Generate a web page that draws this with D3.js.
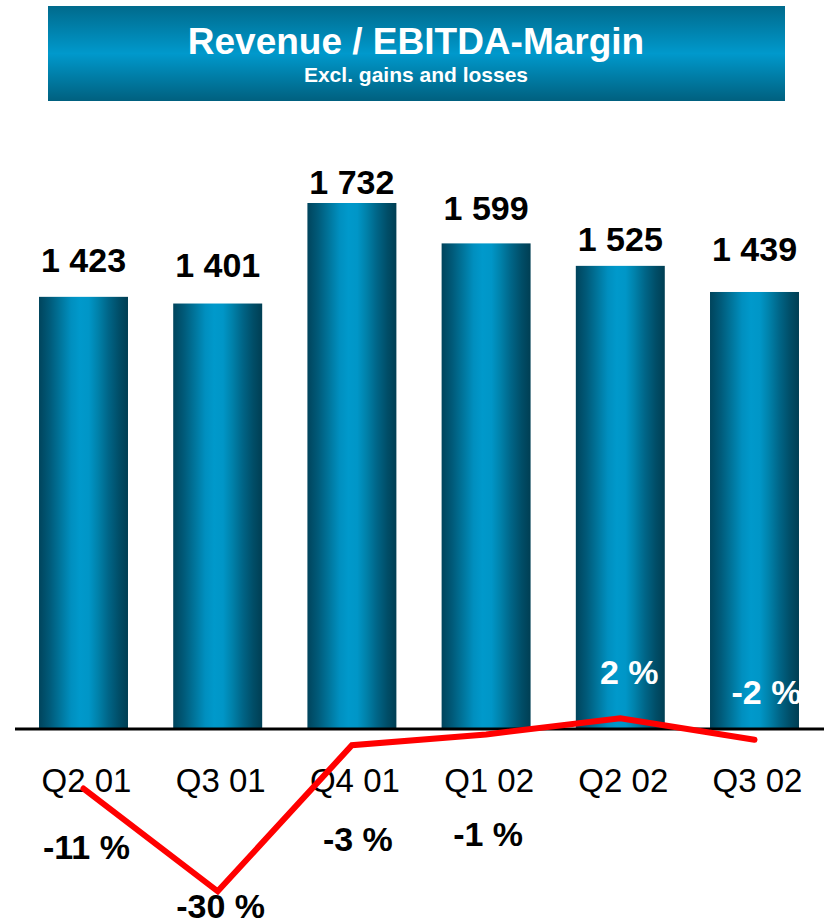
<!DOCTYPE html>
<html>
<head>
<meta charset="utf-8">
<script src="https://cdn.jsdelivr.net/npm/d3@7/dist/d3.min.js"></script>
<style>
  html, body { margin: 0; padding: 0; background: #fff; }
  svg { display: block; font-family: "Liberation Sans", Arial, Helvetica, sans-serif; }
</style>
</head>
<body>
<svg id="chart" width="824" height="924"></svg>
<script>
// Quarterly revenue and EBITDA margin (excl. gains and losses)
const quarters = ["Q2 01", "Q3 01", "Q4 01", "Q1 02", "Q2 02", "Q3 02"];
const revenue = [1423, 1401, 1732, 1599, 1525, 1439];
const ebitdaMargin = [-11, -30, -3, -1, 2, -2];
const revenueLabels = ["1 423", "1 401", "1 732", "1 599", "1 525", "1 439"];
const marginLabels = ["-11 %", "-30 %", "-3 %", "-1 %", "2 %", "-2 %"];

// Label layout (pixel nudges for readability)
const revenueLabelGap = [25, 27, 9, 23, 15, 31];
const marginLabelDy = [70, 27, 106, 112, -34, -36];
const marginLabelDx = [3, 3, 6, 2, 9, 12];

const svg = d3.select("#chart");
const W = 824;
const baseY = 729;

const defs = svg.append("defs");

// Title banner gradient (vertical)
const tg = defs.append("linearGradient")
  .attr("id", "titleGrad").attr("x1", 0).attr("y1", 0).attr("x2", 0).attr("y2", 1);
[[0, "#006a8c"], [0.5, "#0099cc"], [1, "#00607f"]].forEach(([o, c]) =>
  tg.append("stop").attr("offset", o).attr("stop-color", c));

// Cylinder shading for the bars (horizontal)
const bg = defs.append("linearGradient")
  .attr("id", "barGrad").attr("x1", 0).attr("y1", 0).attr("x2", 1).attr("y2", 0);
[[0, "#00445c"], [0.12, "#005a79"], [0.25, "#00779e"], [0.36, "#008fbf"],
 [0.46, "#0099cb"], [0.56, "#0096c7"], [0.66, "#0082ab"], [0.78, "#006587"],
 [0.9, "#004d67"], [1, "#003e53"]].forEach(([o, c]) =>
  bg.append("stop").attr("offset", o).attr("stop-color", c));

// Title banner
svg.append("rect")
  .attr("x", 48).attr("y", 6).attr("width", 737).attr("height", 95)
  .attr("fill", "url(#titleGrad)");
svg.append("text")
  .attr("x", 416).attr("y", 54)
  .attr("text-anchor", "middle")
  .attr("fill", "#fff").attr("font-weight", "bold").attr("font-size", 37)
  .text("Revenue / EBITDA-Margin");
svg.append("text")
  .attr("x", 416).attr("y", 82)
  .attr("text-anchor", "middle")
  .attr("fill", "#fff").attr("font-weight", "bold").attr("font-size", 21)
  .text("Excl. gains and losses");

// Scales
const x = d3.scaleBand()
  .domain(quarters)
  .range([16.4, 821.6])
  .paddingInner(0.337)
  .paddingOuter(0.1685);

const y = d3.scaleLinear()
  .domain([0, 1732])
  .range([baseY, 203]);

const m = d3.scaleLinear()
  .domain([-30, 0])
  .range([891.3, baseY]);

const cx = q => x(q) + x.bandwidth() / 2;

// Revenue bars
svg.append("g").selectAll("rect")
  .data(quarters)
  .join("rect")
  .attr("x", q => x(q))
  .attr("y", (q, i) => y(revenue[i]))
  .attr("width", x.bandwidth())
  .attr("height", (q, i) => y(0) - y(revenue[i]) - 1)
  .attr("fill", "url(#barGrad)");

// Revenue value labels
svg.append("g").selectAll("text")
  .data(quarters)
  .join("text")
  .attr("x", q => cx(q))
  .attr("y", (q, i) => y(revenue[i]) - revenueLabelGap[i])
  .attr("text-anchor", "middle")
  .attr("font-weight", "bold")
  .attr("font-size", 34)
  .attr("fill", "#000")
  .text((q, i) => revenueLabels[i]);

// Baseline
svg.append("line")
  .attr("x1", 15).attr("x2", W)
  .attr("y1", baseY).attr("y2", baseY)
  .attr("stroke", "#000").attr("stroke-width", 3);

// Category labels
svg.append("g").selectAll("text")
  .data(quarters)
  .join("text")
  .attr("x", q => cx(q) + 3)
  .attr("y", 792)
  .attr("text-anchor", "middle")
  .attr("font-size", 33)
  .attr("fill", "#000")
  .text(q => q);

// EBITDA margin line
const line = d3.line()
  .x((d, i) => cx(quarters[i]))
  .y(d => m(d));

svg.append("path")
  .datum(ebitdaMargin)
  .attr("d", line)
  .attr("fill", "none")
  .attr("stroke", "#ff0000")
  .attr("stroke-width", 6)
  .attr("stroke-linejoin", "miter")
  .attr("stroke-linecap", "round");

// EBITDA margin labels
svg.append("g").selectAll("text")
  .data(quarters)
  .join("text")
  .attr("x", (q, i) => cx(q) + marginLabelDx[i])
  .attr("y", (q, i) => m(ebitdaMargin[i]) + marginLabelDy[i])
  .attr("text-anchor", "middle")
  .attr("font-weight", "bold")
  .attr("font-size", 34)
  .attr("fill", (q, i) => marginLabelDy[i] < 0 ? "#fff" : "#000")
  .text((q, i) => marginLabels[i]);
</script>
</body>
</html>
